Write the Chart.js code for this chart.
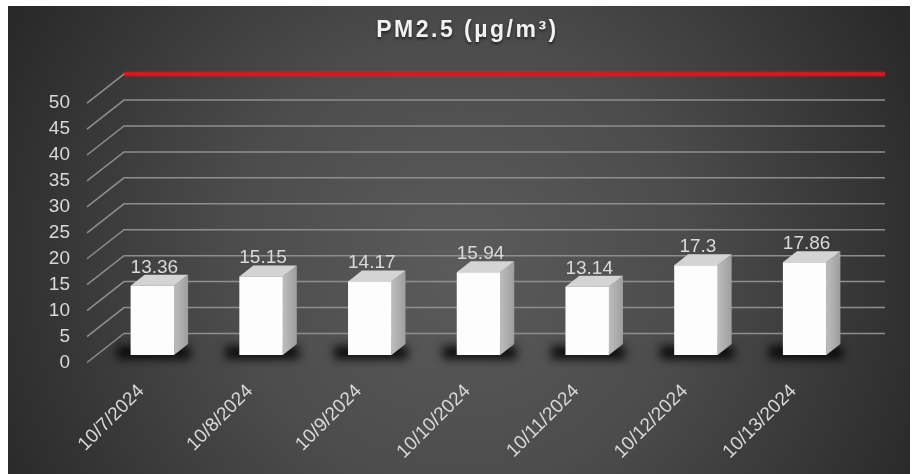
<!DOCTYPE html>
<html>
<head>
<meta charset="utf-8">
<title>PM2.5</title>
<script src="https://cdn.jsdelivr.net/npm/chart.js@4.4.0/dist/chart.umd.min.js"></script>
<style>
    html, body { margin: 0; padding: 0; background: #fff; }
    #marco { position: absolute; left: 8px; top: 6px; width: 902px; height: 468px; }
</style>
</head>
<body>
<div id="marco"><canvas id="graph" width="902" height="468"></canvas></div>
<script>
// datos
var fechas = ["10/7/2024", "10/8/2024", "10/9/2024", "10/10/2024", "10/11/2024", "10/12/2024", "10/13/2024"];
var valoresPM25 = [13.36, 15.15, 14.17, 15.94, 13.14, 17.3, 17.86];
var limitePM25 = [50];
var ticksEjeY = [0, 5, 10, 15, 20, 25, 30, 35, 40, 45, 50];

var fuente = "'Liberation Sans', Arial, sans-serif";

// desplazamientos de la perspectiva (pared del fondo / plano de etiquetas)
var FONDO_DX = 26, FONDO_DY = -21.5;
var FRENTE_DX = -11, FRENTE_DY = 7.5;
var PROF_X = 14, PROF_Y = 11;

var efecto3D = {
    id: "efecto3D",
    afterInit: function(chart) {
        // titulo con espaciado entre letras y sombra
        var bloque = chart.titleBlock;
        var dibujarTitulo = bloque.draw;
        bloque.draw = function() {
            var ctx = chart.ctx;
            ctx.save();
            ctx.letterSpacing = "2.5px";
            ctx.shadowColor = "rgba(0,0,0,0.6)";
            ctx.shadowBlur = 3;
            ctx.shadowOffsetY = 2;
            ctx.translate(34, 0);
            dibujarTitulo.apply(this, arguments);
            ctx.restore();
        };
    },
    beforeDraw: function(chart) {
        var ctx = chart.ctx, w = chart.width, h = chart.height;
        var g = ctx.createRadialGradient(w * 0.5, h * 0.55, 0, w * 0.5, h * 0.55, w * 0.56);
        g.addColorStop(0, "#5b5b5b");
        g.addColorStop(0.45, "#4c4c4c");
        g.addColorStop(1, "#292929");
        ctx.save();
        ctx.fillStyle = g;
        ctx.fillRect(0, 0, w, h);
        ctx.restore();
    },
    beforeDatasetsDraw: function(chart) {
        var ctx = chart.ctx, ejeY = chart.scales.y, area = chart.chartArea;
        ctx.save();

        // lineas de la pared del fondo
        ctx.strokeStyle = "#8e8e8e";
        ctx.lineWidth = 1.5;
        ticksEjeY.forEach(function(v) {
            var py = ejeY.getPixelForValue(v);
            ctx.beginPath();
            ctx.moveTo(area.left + FRENTE_DX, py + FRENTE_DY);
            ctx.lineTo(area.left + FONDO_DX, py + FONDO_DY);
            ctx.lineTo(area.right + FONDO_DX, py + FONDO_DY);
            ctx.stroke();
        });

        // linea roja del limite
        limitePM25.forEach(function(v) {
            var py = ejeY.getPixelForValue(v) + FONDO_DY;
            ctx.strokeStyle = "#e0141e";
            ctx.lineWidth = 3.5;
            ctx.shadowColor = "rgba(255,40,40,0.5)";
            ctx.shadowBlur = 3;
            ctx.beginPath();
            ctx.moveTo(area.left + FONDO_DX, py);
            ctx.lineTo(area.right + FONDO_DX, py);
            ctx.stroke();
        });
        ctx.shadowBlur = 0;

        // sombras y caras laterales de las barras
        var barras = chart.getDatasetMeta(0).data;
        ctx.fillStyle = "rgba(0,0,0,0.85)";
        ctx.filter = "blur(5px)";
        barras.forEach(function(b) {
            var izq = b.x - b.width / 2, der = b.x + b.width / 2;
            ctx.fillRect(izq - 14, b.base - 9, (der + PROF_X + 2) - (izq - 14), 13);
        });
        ctx.filter = "none";

        barras.forEach(function(b) {
            var izq = b.x - b.width / 2, der = b.x + b.width / 2;
            // lateral
            var gl = ctx.createLinearGradient(der, 0, der + PROF_X, 0);
            gl.addColorStop(0, "#bdbdbd");
            gl.addColorStop(1, "#9e9e9e");
            ctx.fillStyle = gl;
            ctx.beginPath();
            ctx.moveTo(der, b.y);
            ctx.lineTo(der + PROF_X, b.y - PROF_Y);
            ctx.lineTo(der + PROF_X, b.base - PROF_Y);
            ctx.lineTo(der, b.base);
            ctx.closePath();
            ctx.fill();
            // tapa
            ctx.fillStyle = "#d4d4d4";
            ctx.beginPath();
            ctx.moveTo(izq, b.y);
            ctx.lineTo(izq + PROF_X, b.y - PROF_Y);
            ctx.lineTo(der + PROF_X, b.y - PROF_Y);
            ctx.lineTo(der, b.y);
            ctx.closePath();
            ctx.fill();
        });
        ctx.restore();
    },
    afterDatasetsDraw: function(chart) {
        var ctx = chart.ctx;
        var barras = chart.getDatasetMeta(0).data;
        ctx.save();
        ctx.font = "19px " + fuente;
        ctx.fillStyle = "#dadada";
        ctx.textAlign = "center";
        ctx.textBaseline = "alphabetic";
        barras.forEach(function(b, i) {
            ctx.fillText(String(valoresPM25[i]), b.x + 2, b.y - 13);
        });
        ctx.restore();
    }
};

var grafico = document.getElementById("graph").getContext("2d");

var chart = new Chart(grafico, {
    type: "bar",
    data: {
        labels: fechas,
        datasets: [
            {
                label: "PM2.5",
                data: valoresPM25,
                backgroundColor: "#fdfdfd",
                borderWidth: 0,
                barPercentage: 0.4,
                categoryPercentage: 1
            }
        ]
    },
    options: {
        responsive: false,
        animation: false,
        layout: { padding: { left: 0, right: 51, top: 0, bottom: 0 } },
        plugins: {
            legend: { display: false },
            tooltip: { enabled: false },
            title: {
                display: true,
                text: "PM2.5 (µg/m³)",
                color: "#f2f2f2",
                font: { family: fuente, size: 23, weight: "bold" },
                padding: { top: 11, bottom: 51 }
            }
        },
        scales: {
            x: {
                grid: { display: false, drawTicks: false },
                border: { display: false },
                ticks: {
                    color: "#d9d9d9",
                    font: { family: fuente, size: 19 },
                    minRotation: 45,
                    maxRotation: 45,
                    autoSkip: false,
                    padding: 25,
                    labelOffset: -11
                },
                afterFit: function(eje) { eje.height = 119; }
            },
            y: {
                min: 0,
                max: 50,
                grid: { display: false, drawTicks: false },
                border: { display: false },
                ticks: {
                    color: "#d9d9d9",
                    font: { family: fuente, size: 19 },
                    padding: 28,
                    labelOffset: 7.5
                },
                afterBuildTicks: function(eje) {
                    eje.ticks = ticksEjeY.map(function(v) { return { value: v }; });
                },
                afterFit: function(eje) { eje.width = 90; }
            }
        }
    },
    plugins: [efecto3D]
});
</script>
</body>
</html>
